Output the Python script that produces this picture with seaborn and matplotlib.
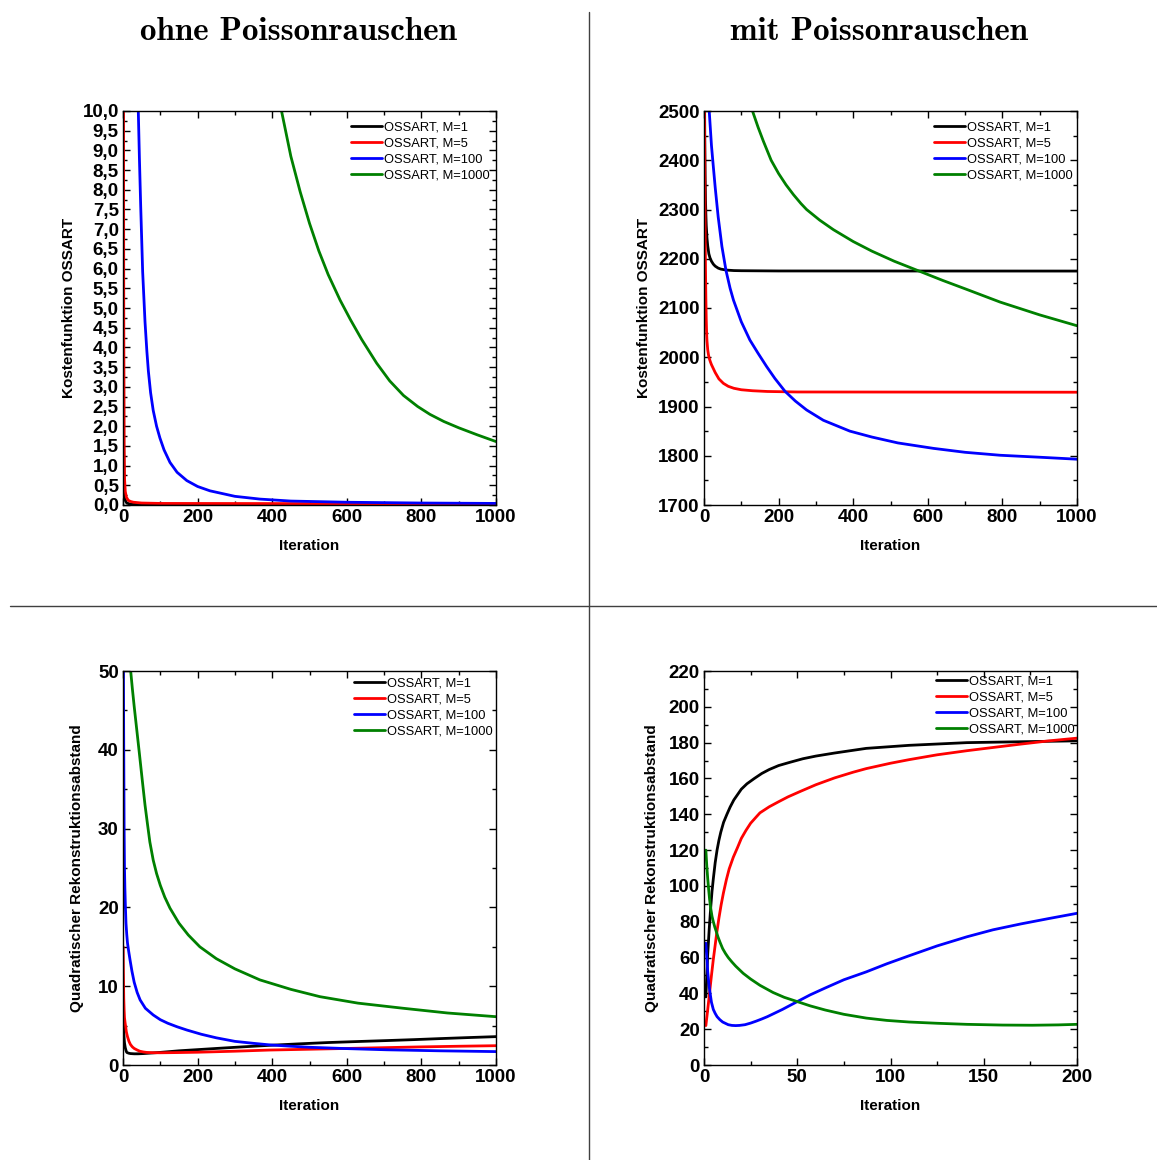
import numpy as np
import pandas as pd
import matplotlib
matplotlib.use("Agg")
import matplotlib.pyplot as plt
import seaborn as sns
from matplotlib.ticker import MultipleLocator, FuncFormatter
from matplotlib.lines import Line2D

# ---------------- data ----------------
series_labels = ["OSSART, M=1", "OSSART, M=5", "OSSART, M=100", "OSSART, M=1000"]
series_colors = ["#000000", "#ff0000", "#0000ff", "#008000"]

# top-left: Kostenfunktion ohne Poissonrauschen
tl_m1_x = [1, 2, 3, 4, 6, 10, 20, 50, 1000]
tl_m1_y = [8, 1.5, 0.6, 0.3, 0.12, 0.05, 0.02, 0.01, 0.005]
tl_m5_x = [1, 2, 3, 4, 6, 9, 14, 20, 28, 50, 100, 1000]
tl_m5_y = [14, 5, 1.5, 0.7, 0.35, 0.2, 0.12, 0.09, 0.07, 0.05, 0.04, 0.03]
tl_m100_x = [38, 41, 44, 47.4, 52.7, 59, 64, 68, 74, 81, 90, 99, 110, 126, 145, 171, 200, 233,
             300, 367, 450, 600, 800, 1000]
tl_m100_y = [11, 10, 8.8, 7.6, 5.92, 4.65, 3.9, 3.4, 2.85, 2.4, 2.0, 1.7, 1.4, 1.08, 0.83, 0.62,
             0.47, 0.36, 0.22, 0.15, 0.1, 0.07, 0.05, 0.04]
tl_m1000_x = [400, 425, 450, 475, 500, 525, 550, 582, 610, 640, 680, 715, 752, 790, 823, 860,
              900, 950, 1000]
tl_m1000_y = [11.2, 10, 8.85, 7.95, 7.15, 6.45, 5.85, 5.2, 4.7, 4.2, 3.6, 3.15, 2.78, 2.5, 2.3,
              2.12, 1.96, 1.78, 1.61]

# top-right: Kostenfunktion mit Poissonrauschen
tr_m1_x = [1, 2, 3, 4, 5, 6, 8, 10, 13, 16, 20, 25, 30, 38, 45, 60, 80, 100, 200, 1000]
tr_m1_y = [2600, 2450, 2370, 2320, 2290, 2268, 2242, 2226, 2210, 2202, 2195, 2189, 2185, 2181,
           2179, 2177, 2176, 2175.7, 2175.2, 2175]
tr_m5_x = [1, 2, 3, 4, 5, 6, 7, 8, 10, 12, 14, 17, 20, 25, 30, 40, 52, 65, 80, 100, 130, 170, 250, 1000]
tr_m5_y = [2550, 2400, 2260, 2180, 2120, 2078, 2049, 2033, 2015, 2005, 1998, 1991, 1985, 1977,
           1969, 1956, 1947, 1941, 1937, 1934, 1932, 1930.5, 1929.5, 1929]
tr_m100_x = [10, 14, 20, 25, 30, 38, 48, 59, 70, 79, 100, 123, 145, 168, 190, 217, 245, 275, 320,
             391, 450, 520, 615, 700, 794, 900, 1000]
tr_m100_y = [2600, 2500, 2430, 2387, 2345, 2285, 2225, 2176, 2140, 2116, 2072, 2035, 2008, 1981,
             1957, 1931, 1911, 1893, 1872, 1850, 1838, 1826, 1815, 1807, 1801, 1797, 1793]
tr_m1000_x = [120, 130, 145, 159, 180, 200, 220, 240, 260, 275, 310, 347, 400, 450, 510, 575, 640,
              700, 794, 900, 1000]
tr_m1000_y = [2525, 2500, 2467, 2439, 2400, 2373, 2350, 2330, 2312, 2300, 2278.5, 2259, 2235,
              2215.5, 2195, 2175.5, 2156, 2139, 2112, 2086, 2064]

# bottom-left: Rekonstruktionsabstand ohne Poissonrauschen
bl_m1_x = [1, 2, 3, 4, 6, 8, 10, 15, 20, 30, 40, 55, 70, 100, 150, 200, 250, 320, 394, 470, 550,
           630, 707, 780, 850, 920, 1000]
bl_m1_y = [5.5, 4.2, 3.4, 2.8, 2.2, 1.85, 1.6, 1.5, 1.45, 1.42, 1.42, 1.45, 1.5, 1.6, 1.8, 1.95,
           2.1, 2.3, 2.5, 2.68, 2.85, 2.98, 3.1, 3.22, 3.35, 3.47, 3.6]
bl_m5_x = [0.5, 1, 2, 3, 4, 5.5, 7, 9, 12, 16, 20, 25, 30, 38, 45, 55, 63, 80, 100, 150, 200, 300,
           394, 500, 600, 700, 800, 900, 1000]
bl_m5_y = [15, 12, 8.5, 7, 6, 5.4, 4.9, 4.2, 3.6, 3.0, 2.6, 2.3, 2.1, 1.9, 1.75, 1.65, 1.6, 1.56,
           1.55, 1.58, 1.62, 1.75, 1.9, 2.0, 2.1, 2.2, 2.3, 2.38, 2.45]
bl_m100_x = [1, 2, 3, 4, 5, 6.5, 8, 10, 12, 15, 19, 24, 30, 38, 46, 60, 81, 100, 120, 145, 171,
             210, 250, 300, 350, 394, 450, 500, 600, 707, 850, 1000]
bl_m100_y = [52, 40, 30, 25, 22.5, 20, 18, 16.6, 15.5, 14.5, 13.3, 11.9, 10.5, 9.2, 8.25, 7.2,
             6.35, 5.75, 5.3, 4.85, 4.44, 3.9, 3.45, 3.0, 2.75, 2.55, 2.38, 2.25, 2.08, 1.93, 1.8, 1.7]
bl_m1000_x = [19, 20.6, 25, 30, 37, 44, 52, 59, 65, 72, 81, 90, 100, 112, 126, 150, 175, 206, 250,
              300, 367, 450, 528, 630, 751, 870, 1000]
bl_m1000_y = [51, 50, 47.8, 45.5, 42.5, 39.5, 36, 33, 30.8, 28.3, 26, 24.3, 22.8, 21.3, 19.9, 18,
              16.5, 15, 13.5, 12.2, 10.8, 9.6, 8.67, 7.85, 7.2, 6.6, 6.13]

# bottom-right: Rekonstruktionsabstand mit Poissonrauschen
br_m1_x = [1, 1.5, 2, 2.8, 3.6, 4.3, 5, 6, 7, 8, 9, 10.5, 12.3, 14, 16, 18, 20, 23, 27, 31, 35, 40,
           46, 53, 60, 70, 87, 110, 141, 170, 200]
br_m1_y = [38, 50, 62, 76, 88, 97, 104, 113, 120, 125.5, 130, 135.5, 140, 144, 148, 151, 154, 157,
           160, 162.8, 165, 167.2, 169, 171, 172.5, 174.2, 176.8, 178.5, 180, 180.5, 181]
br_m5_x = [1, 2, 3, 4, 5, 6, 6.8, 8, 9.2, 10.4, 12, 13.5, 15.7, 18, 20, 22.5, 25, 28, 30, 35, 40, 45,
           51.5, 60, 70, 80, 87, 100, 110, 125, 141, 155, 170, 185, 200]
br_m5_y = [22, 31, 40.5, 50, 59, 67, 73.5, 82, 89.5, 96, 103.5, 109.5, 116, 121.5, 126.5, 131, 135,
           138.5, 140.8, 144.2, 147, 149.7, 152.7, 156.5, 160.3, 163.5, 165.5, 168.5, 170.5, 173.2,
           175.5, 177.3, 179.2, 181, 182.5]
br_m100_x = [1, 1.5, 2, 2.5, 3, 4, 5, 6, 7, 8.5, 10, 12, 13, 15, 17, 19, 22, 25, 28, 31, 34, 38, 42,
             46, 50, 57, 65, 75, 87, 98, 110, 125, 141, 155, 170, 185, 200]
br_m100_y = [68, 60, 52, 46.5, 42, 35, 31, 28.8, 27, 25.3, 24, 23, 22.5, 22.1, 22, 22.1, 22.5, 23.4,
             24.5, 25.7, 27, 29, 31, 33.2, 35.4, 39.2, 43, 47.6, 52, 56.5, 61, 66.5, 71.6, 75.5,
             78.8, 81.8, 84.7]
br_m1000_x = [1, 1.5, 2, 2.5, 3, 3.6, 4.3, 5, 5.8, 6.6, 7.5, 8.6, 10, 11.5, 13, 15, 17, 19, 21, 25,
              30, 37, 43, 50, 57, 65, 75, 87, 98, 110, 125, 141, 160, 176, 190, 200]
br_m1000_y = [120, 111, 104, 98, 92.5, 87.5, 83, 80, 77, 74.5, 71.5, 68.5, 65, 62.3, 60, 57.5, 55.2,
              53.2, 51.2, 48, 44.5, 40.5, 37.8, 35.4, 33, 30.7, 28.3, 26.2, 24.9, 24, 23.3, 22.7,
              22.3, 22.2, 22.4, 22.7]

col_titles = ["ohne Poissonrauschen", "mit Poissonrauschen"]
x_label = "Iteration"
y_label_cost = "Kostenfunktion OSSART"
y_label_dist = "Quadratischer Rekonstruktionsabstand"

# ---------------- style ----------------
sns.set_theme(style="ticks")
plt.rcParams["font.family"] = ["Liberation Sans", "DejaVu Sans"]
plt.rcParams["axes.linewidth"] = 1.0
for k in ["text.color", "axes.labelcolor", "xtick.color", "ytick.color", "axes.edgecolor"]:
    plt.rcParams[k] = "black"

fig = plt.figure(figsize=(11.57, 11.60), dpi=100)
W, H = 1157.0, 1160.0


def make_ax(left_px, top_px):
    return fig.add_axes([left_px / W, 1 - (top_px + 394) / H, 373 / W, 394 / H])


panels = [
    dict(ax=make_ax(123, 111),
         data=[(tl_m1_x, tl_m1_y), (tl_m5_x, tl_m5_y), (tl_m100_x, tl_m100_y), (tl_m1000_x, tl_m1000_y)],
         xlim=(0, 1000), ylim=(0, 10), xmaj=200, xmin=100, ymaj=0.5, ymin=0.25,
         yfmt=lambda v, p: f"{v:.1f}".replace(".", ","), ylabel=y_label_cost,
         ylab_x=-0.126, leg=(0.611, 0.973)),
    dict(ax=make_ax(704, 111),
         data=[(tr_m1_x, tr_m1_y), (tr_m5_x, tr_m5_y), (tr_m100_x, tr_m100_y), (tr_m1000_x, tr_m1000_y)],
         xlim=(0, 1000), ylim=(1700, 2500), xmaj=200, xmin=100, ymaj=100, ymin=50,
         yfmt=lambda v, p: f"{v:.0f}", ylabel=y_label_cost,
         ylab_x=-0.142, leg=(0.617, 0.973)),
    dict(ax=make_ax(123, 671),
         data=[(bl_m1_x, bl_m1_y), (bl_m5_x, bl_m5_y), (bl_m100_x, bl_m100_y), (bl_m1000_x, bl_m1000_y)],
         xlim=(0, 1000), ylim=(0, 50), xmaj=200, xmin=100, ymaj=10, ymin=5,
         yfmt=lambda v, p: f"{v:.0f}", ylabel=y_label_dist,
         ylab_x=-0.105, leg=(0.619, 0.983)),
    dict(ax=make_ax(704, 671),
         data=[(br_m1_x, br_m1_y), (br_m5_x, br_m5_y), (br_m100_x, br_m100_y), (br_m1000_x, br_m1000_y)],
         xlim=(0, 200), ylim=(0, 220), xmaj=50, xmin=25, ymaj=20, ymin=10,
         yfmt=lambda v, p: f"{v:.0f}", ylabel=y_label_dist,
         ylab_x=-0.121, leg=(0.622, 0.988)),
]

for p in panels:
    ax = p["ax"]
    for (xs, ys), lab, col in zip(p["data"], series_labels, series_colors):
        sns.lineplot(x=xs, y=ys, ax=ax, color=col, label=lab, linewidth=2.0,
                     estimator=None, sort=False)
    ax.set_xlim(*p["xlim"])
    ax.set_ylim(*p["ylim"])
    ax.xaxis.set_major_locator(MultipleLocator(p["xmaj"]))
    ax.xaxis.set_minor_locator(MultipleLocator(p["xmin"]))
    ax.yaxis.set_major_locator(MultipleLocator(p["ymaj"]))
    ax.yaxis.set_minor_locator(MultipleLocator(p["ymin"]))
    ax.yaxis.set_major_formatter(FuncFormatter(p["yfmt"]))
    ax.xaxis.set_major_formatter(FuncFormatter(lambda v, pos: f"{v:.0f}"))
    ax.tick_params(which="both", direction="in", top=True, right=True, width=1,
                   color="black", labelcolor="black")
    ax.tick_params(which="major", length=5, labelsize=13.5, pad=3)
    ax.tick_params(which="minor", length=3)
    for t in ax.get_xticklabels() + ax.get_yticklabels():
        t.set_fontweight("bold")
        t.set_color("black")
    for s in ax.spines.values():
        s.set_visible(True)
        s.set_color("black")
        s.set_linewidth(1.0)
    ax.set_xlabel(x_label, fontsize=11, fontweight="bold", color="black")
    ax.set_ylabel(p["ylabel"], fontsize=11, fontweight="bold", color="black")
    ax.xaxis.set_label_coords(0.5, -0.086)
    ax.yaxis.set_label_coords(p["ylab_x"], 0.5)
    ax.legend(loc="upper left", bbox_to_anchor=p["leg"], frameon=False, fontsize=9.3,
              borderpad=0, borderaxespad=0, labelspacing=0.3, handlelength=2.4,
              handletextpad=0.15, labelcolor="black")

# column titles
title_font = ["cmb10", "DejaVu Serif"]
fig.text(298 / W, 1 - 31 / H, col_titles[0], ha="center", va="center",
         fontsize=23.8, family=title_font, fontweight="bold", color="black")
fig.text(879 / W, 1 - 31 / H, col_titles[1], ha="center", va="center",
         fontsize=23.8, family=title_font, fontweight="bold", color="black")

# separator lines
fig.add_artist(Line2D([589 / W, 589 / W], [0, 1 - 12 / H], transform=fig.transFigure,
                      color="#404040", linewidth=1))
fig.add_artist(Line2D([10 / W, 1], [1 - 606 / H, 1 - 606 / H], transform=fig.transFigure,
                      color="#404040", linewidth=1))

fig.savefig("out.png", dpi=100, facecolor="white")
